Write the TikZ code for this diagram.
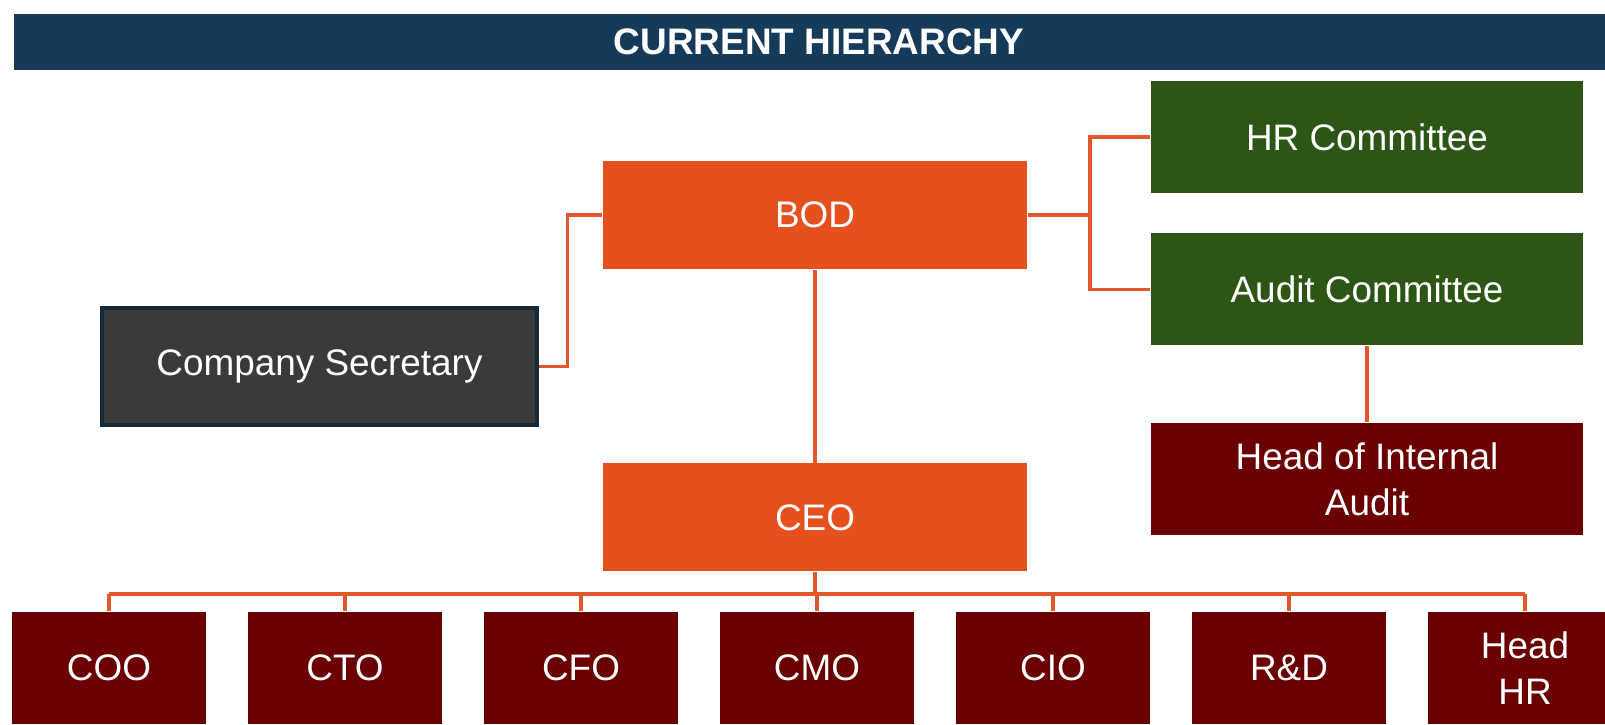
\documentclass[tikz,border=0pt]{standalone}
\usepackage{fontspec}
\setmainfont{Liberation Sans}

\definecolor{banner}{HTML}{163A5A}
\definecolor{bodorange}{HTML}{E5501F}
\definecolor{linkorange}{HTML}{E0582C}
\definecolor{cmtgreen}{HTML}{2C5516}
\definecolor{execred}{HTML}{6B0000}
\definecolor{secgray}{HTML}{3A3A3A}
\definecolor{secedge}{HTML}{14293A}

\begin{document}
\begin{tikzpicture}[
    box/.style={text=white, inner sep=0pt, align=center, minimum width=4.24cm, minimum height=1.08cm, font=\fontsize{10.5}{13}\selectfont},
    board/.style={box, fill=bodorange},
    cmte/.style={box, fill=cmtgreen, minimum width=4.32cm, minimum height=1.12cm},
    exec/.style={box, fill=execred, minimum width=1.94cm, minimum height=1.12cm},
    link/.style={draw=linkorange, line width=1pt}
  ]
        \useasboundingbox (0, 0) rectangle (16.05, 7.25);

        \fill [banner] (0.14, 6.55) rectangle (16.05, 7.11);
        \node (title) [text=white, font=\bfseries\fontsize{10.5}{12}\selectfont] at (8.19, 6.83) {CURRENT HIERARCHY};

        \node (bod) [board] at (8.15, 5.10) {BOD};
        \node (ceo) [board] at (8.15, 2.075) {CEO};
        \node (sec) [box, fill=secgray, draw=secedge, line width=1.2pt, minimum width=4.35cm, minimum height=1.17cm] at (3.195, 3.585) {Company Secretary};

        \node (hr) [cmte] at (13.67, 5.88) {HR Committee};
        \node (audit) [cmte] at (13.67, 4.355) {Audit Committee};
        \node (hia) [cmte, fill=execred] at (13.67, 2.46) {Head of Internal\\Audit};

        \foreach \name/\txt [count=\i from 0] in {coo/COO, cto/CTO, cfo/CFO, cmo/CMO, cio/CIO, rd/R\&D, hhr/{Head\\HR}}
          \node (\name) [exec] at (1.09 + 2.36*\i, 0.57) {\txt};

        \coordinate (bus) at (8.15, 1.31);
        \coordinate (rj) at (10.90, 5.10);

        \draw [link] (bod.west) -- ++(-0.35, 0) |- (sec.east);
        \draw [link] (bod.east) -- (rj);
        \draw [link] (hr.west) -| (rj) |- (audit.west);
        \draw [link] (audit.south) -- (hia.north);
        \draw [link] (bod.south) -- (ceo.north);
        \draw [link] (ceo.south) -- (bus);
        \draw [link] (bus -| coo.north) -- (bus -| hhr.north);
        \foreach \name in {coo, cto, cfo, cmo, cio, rd, hhr}
          \draw [link] (bus -| \name.north) -- (\name.north);
     \end{tikzpicture}
\end{document}
